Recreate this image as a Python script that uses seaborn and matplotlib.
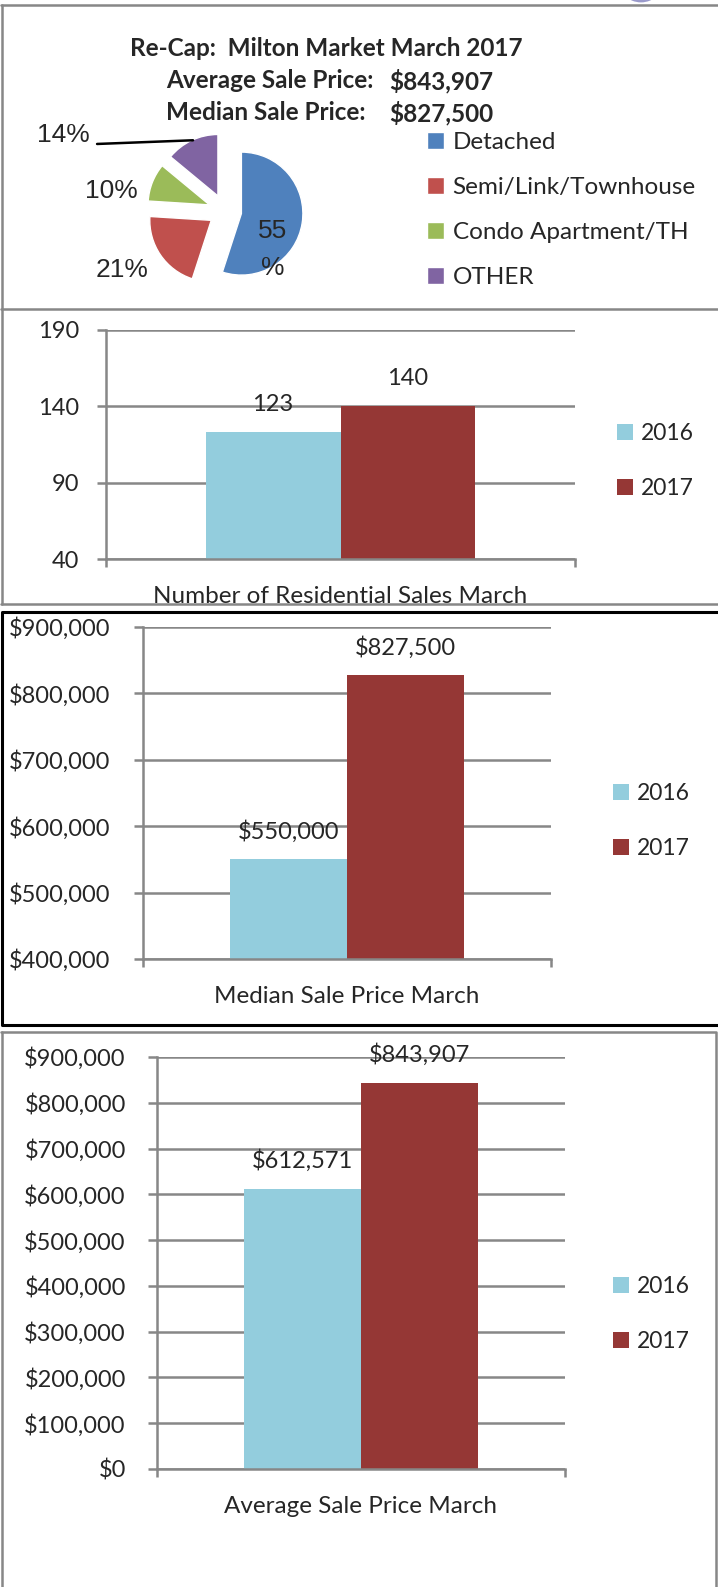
import numpy as np
import pandas as pd
import matplotlib
matplotlib.use("Agg")
import matplotlib.pyplot as plt
import seaborn as sns
from matplotlib.lines import Line2D
from matplotlib.patches import Arc

# ---------------------------------------------------------------- data
title_text = "Re-Cap:  Milton Market March 2017"
summary_labels = ["Average Sale Price:", "Median Sale Price:"]
summary_values = ["$843,907", "$827,500"]

home_types = ["Detached", "Semi/Link/Townhouse", "Condo Apartment/TH", "OTHER"]
home_shares = [55, 21, 10, 14]
home_colors = ["#4F81BD", "#C0504D", "#9BBB59", "#8064A2"]

years = ["2016", "2017"]
year_colors = ["#93CDDD", "#953735"]

sales_cat = "Number of Residential Sales March"
sales_count = [123, 140]
sales_ticks = [40, 90, 140, 190]

median_cat = "Median Sale Price March"
median_price = [550000, 827500]
median_ticks = [400000, 500000, 600000, 700000, 800000, 900000]

average_cat = "Average Sale Price March"
average_price = [612571, 843907]
average_ticks = [0, 100000, 200000, 300000, 400000, 500000, 600000, 700000, 800000, 900000]

# ---------------------------------------------------------------- setup
sns.set_style("white")
plt.rcParams["font.family"] = ["Lato", "DejaVu Sans"]

W, H = 718, 1587
GRAY = "#878787"
fig = plt.figure(figsize=(W / 100, H / 100), dpi=100)


def px_axes(x0, y0, x1, y1):
    return fig.add_axes([x0 / W, 1 - y1 / H, (x1 - x0) / W, (y1 - y0) / H])


def fline(xs, ys, color=GRAY, lw=1.8):
    fig.add_artist(Line2D([x / W for x in xs], [1 - y / H for y in ys],
                          color=color, lw=lw, transform=fig.transFigure))


# panel frames
fline([1, 718], [5, 5])
fline([1.5, 1.5], [5, 604])
fline([1, 718], [309, 309])
fline([1, 718], [604, 604])
fline([720, 1.5, 1.5, 720], [612, 612, 1025, 1025], color="black", lw=2.2)
fline([1.5, 1.5], [1032, 1587])
fline([1, 716, 716], [1032, 1032, 1587])
fig.add_artist(Arc((6.41, 16.08), 0.44, 0.44, transform=fig.dpi_scale_trans,
                   color="#9a9acb", lw=2))

# ---------------------------------------------------------------- panel 1: pie
head_font = dict(fontsize=17.5, fontweight="bold", ha="left", va="center")
fig.text(130 / W, 1 - 48 / H, title_text, **head_font)
for i, (lab, val) in enumerate(zip(summary_labels, summary_values)):
    y = 81 + 32 * i
    fig.text(166 / W, 1 - y / H, lab, **head_font)
    fig.text(389 / W, 1 - y / H, val, **head_font)

R = 61.5
cx, cy = 225, 211
L = 1.6
ax_pie = px_axes(cx - L * R, cy - L * R, cx + L * R, cy + L * R)
wedges, _ = ax_pie.pie(home_shares, colors=home_colors, startangle=90, counterclock=False,
                       explode=[0.27] * len(home_shares))
ax_pie.set_xlim(-L, L)
ax_pie.set_ylim(-L, L)
ax_pie.set_aspect("equal")
ax_pie.axis("off")

pie_font = dict(fontsize=19, family=["Liberation Sans", "DejaVu Sans"], ha="center", va="center")
pie_label_pos = [(0.77, -0.63), (-1.67, -0.96), (-1.84, 0.33), (-2.63, 1.24)]
for share, (lx, ly) in zip(home_shares, pie_label_pos):
    txt = f"{share}\n%" if share == max(home_shares) else f"{share}%"
    ax_pie.text(lx, ly, txt, linespacing=1.7, clip_on=False, **pie_font)
ax_pie.add_line(Line2D([-2.08, -0.52], [1.09, 1.15], color="black", lw=1.8, clip_on=False))

ax_pie.legend(wedges, home_types, loc="center left",
              bbox_to_anchor=(427 / W, 1 - 210 / H), bbox_transform=fig.transFigure,
              frameon=False, fontsize=17.5, handlelength=0.7, handleheight=0.7,
              handletextpad=0.35, labelspacing=1.0, borderpad=0, borderaxespad=0)


# ---------------------------------------------------------------- bar panels
def bar_panel(box, cat, values, ticks, money, ypad, legend_xy):
    ax = px_axes(*box)
    df = pd.DataFrame({"cat": [cat] * len(years), "year": years, "value": values})
    sns.barplot(data=df, x="cat", y="value", hue="year", palette=year_colors,
                width=0.575, saturation=1, errorbar=None, linewidth=0, ax=ax)
    ax.set_axisbelow(True)
    ax.set_xlim(-0.5, 0.5)
    ax.set_ylim(ticks[0], ticks[-1])
    fmt = (lambda v: f"${v:,.0f}") if money else (lambda v: f"{v:.0f}")
    ax.set_yticks(ticks, [fmt(t) for t in ticks])
    ax.yaxis.grid(True, color=GRAY, lw=1.8)
    ax.xaxis.grid(False)
    for s in ["top", "right"]:
        ax.spines[s].set_visible(False)
    for s in ["left", "bottom"]:
        ax.spines[s].set_color(GRAY)
        ax.spines[s].set_linewidth(1.8)
    ax.tick_params(axis="y", left=True, length=6.5, width=1.8, color=GRAY,
                   pad=ypad, labelsize=17)
    ax.set_xticks([0], [cat])
    ax.set_xticks([-0.5, 0.5], minor=True)
    ax.tick_params(axis="x", which="major", length=0, pad=19.5, labelsize=17.5)
    ax.tick_params(axis="x", which="minor", bottom=True, length=6, width=1.8, color=GRAY)
    ax.set_xlabel("")
    ax.set_ylabel("")

    for container in ax.containers:
        for bar in container:
            v = bar.get_height()
            ax.annotate(fmt(v), (bar.get_x() + bar.get_width() / 2, v),
                        xytext=(0, 20), textcoords="offset points",
                        ha="center", va="center", fontsize=17, annotation_clip=False)

    sns.move_legend(ax, "center left", bbox_to_anchor=(legend_xy[0] / W, 1 - legend_xy[1] / H),
                    bbox_transform=fig.transFigure, title=None, frameon=False, fontsize=16.5,
                    handlelength=0.7, handleheight=0.7, handletextpad=0.35,
                    labelspacing=1.45, borderpad=0, borderaxespad=0)
    return ax


bar_panel((106, 330, 575, 559), sales_cat, sales_count, sales_ticks, False, 13, (617, 461))
bar_panel((143, 627, 551, 959), median_cat, median_price, median_ticks, True, 17, (613, 821))
bar_panel((157, 1057, 565, 1469), average_cat, average_price, average_ticks, True, 16, (613, 1314))

fig.savefig("out.png", dpi=100)
